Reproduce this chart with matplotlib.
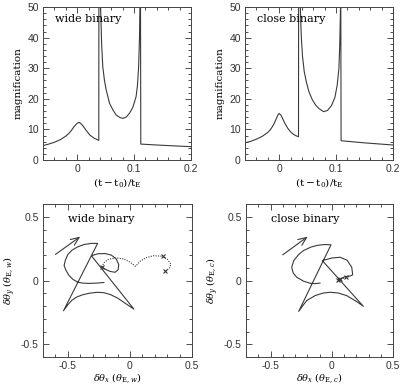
import matplotlib
matplotlib.use("Agg")
import matplotlib.pyplot as plt
from matplotlib.ticker import MultipleLocator

plt.rcParams['font.family'] = ['Liberation Sans', 'DejaVu Sans']
plt.rcParams['mathtext.fontset'] = 'dejavuserif'

SERIF = ['DejaVu Serif']

# ---- light curves ----
wide_t = [-0.06, -0.05, -0.04, -0.03, -0.02, -0.015, -0.01, -0.005, 0.0, 0.003,
          0.006, 0.01, 0.015, 0.022, 0.03, 0.035, 0.038, 0.0382,
          0.0405, 0.0412, 0.043, 0.045, 0.048, 0.051, 0.057, 0.063, 0.0686, 0.075,
          0.08, 0.086, 0.092, 0.098, 0.1035, 0.106, 0.108, 0.1095, 0.1105, 0.1112,
          0.1118, 0.15, 0.2]
wide_mag = [4.7, 5.2, 5.8, 6.6, 7.8, 8.6, 9.7, 11.0, 12.0, 12.3,
            12.0, 11.2, 9.9, 8.2, 7.1, 6.7, 6.4, 60,
            60, 50, 38, 30.5, 26, 22.9, 18.5, 16.3, 14.7, 13.9,
            13.6, 14.0, 15.3, 17.3, 20.7, 24.5, 30.5, 40, 52, 60,
            5.2, 4.8, 4.35]

close_t = [-0.06, -0.05, -0.04, -0.03, -0.02, -0.015, -0.01, -0.005, -0.002, 0.0,
           0.003, 0.006, 0.01, 0.015, 0.02, 0.025, 0.03, 0.034, 0.0342,
           0.0365, 0.0372, 0.039, 0.041, 0.044, 0.0477, 0.052, 0.058, 0.064, 0.07,
           0.078, 0.085, 0.092, 0.098, 0.102, 0.105, 0.1065, 0.1078, 0.1082,
           0.1088, 0.15, 0.2]
close_mag = [5.6, 6.1, 6.8, 7.7, 9.0, 10.0, 11.5, 13.5, 14.8, 15.2,
             14.7, 13.6, 12.0, 10.4, 9.2, 8.4, 7.9, 7.6, 60,
             60, 50, 40, 34, 29, 25.6, 22.5, 19.8, 18.0, 16.8,
             15.8, 16.2, 17.8, 20.5, 24.5, 30, 38, 50, 60,
             6.3, 5.6, 4.9]

# ---- centroid trajectories ----
wide_x = [-0.21, -0.27, -0.33, -0.38, -0.42, -0.46, -0.49, -0.515, -0.53, -0.52,
          -0.5, -0.465, -0.42, -0.37, -0.31, -0.26,
          -0.535,
          -0.5, -0.468, -0.43, -0.386, -0.33, -0.265, -0.21, -0.157, -0.1, -0.049, 0.032,
          -0.31,
          -0.26, -0.2, -0.15, -0.11, -0.09, -0.095, -0.12, -0.16, -0.2, -0.225]
wide_y = [-0.015, -0.02, -0.022, -0.02, -0.013, 0.01, 0.04, 0.08, 0.118, 0.16,
          0.205, 0.24, 0.265, 0.283, 0.292, 0.292,
          -0.237,
          -0.19, -0.155, -0.13, -0.113, -0.1, -0.092, -0.095, -0.11, -0.137, -0.171, -0.224,
          0.195,
          0.21, 0.212, 0.2, 0.17, 0.125, 0.085, 0.065, 0.072, 0.09, 0.105]
wide_dot_x = [-0.225, -0.21, -0.17, -0.11, -0.05, 0.0, 0.046, 0.08, 0.13, 0.19,
              0.25, 0.3, 0.33, 0.32, 0.285]
wide_dot_y = [0.105, 0.14, 0.168, 0.178, 0.17, 0.145, 0.112, 0.15, 0.18, 0.195,
              0.192, 0.17, 0.13, 0.1, 0.072]
wide_mark_x = [-0.225, 0.27, 0.285]
wide_mark_y = [0.105, 0.19, 0.072]

close_x = [-0.096, -0.14, -0.177, -0.23, -0.286, -0.315, -0.327, -0.31, -0.27, -0.23,
           -0.17, -0.12, -0.06, -0.006,
           -0.27,
           -0.235, -0.204, -0.136, -0.07, -0.014, 0.05, 0.122, 0.204, 0.258,
           -0.077,
           0.0, 0.068, 0.125, 0.163, 0.171, 0.15, 0.109, 0.054]
close_y = [-0.02, -0.024, -0.021, -0.005, 0.026, 0.06, 0.105, 0.157, 0.205, 0.236,
           0.263, 0.276, 0.283, 0.281,
           -0.242,
           -0.195, -0.157, -0.118, -0.098, -0.092, -0.097, -0.118, -0.165, -0.202,
           0.157,
           0.177, 0.183, 0.16, 0.105, 0.045, 0.036, 0.031, 0.005]
close_dot_x = [0.054, 0.09, 0.12, 0.15]
close_dot_y = [0.005, 0.016, 0.026, 0.034]
close_mark_x = [0.054, 0.068, 0.12]
close_mark_y = [0.005, 0.01, 0.026]

# arrows: (tail x, tail y, head x, head y)
wide_arrow = [-0.60, 0.205, -0.40, 0.345]
close_arrow = [-0.40, 0.202, -0.196, 0.345]

line_col = '#3a3a3a'

fig = plt.figure(figsize=(4.0, 3.87), dpi=100)
ax_tl = fig.add_axes([0.1075, 0.5866, 0.37, 0.395])
ax_tr = fig.add_axes([0.6125, 0.5866, 0.37, 0.395])
ax_bl = fig.add_axes([0.1075, 0.0775, 0.3725, 0.395])
ax_br = fig.add_axes([0.615, 0.0775, 0.3675, 0.395])


def style_axes(ax, major_x, minor_x, major_y, minor_y):
    ax.xaxis.set_major_locator(MultipleLocator(major_x))
    ax.xaxis.set_minor_locator(MultipleLocator(minor_x))
    ax.yaxis.set_major_locator(MultipleLocator(major_y))
    ax.yaxis.set_minor_locator(MultipleLocator(minor_y))
    ax.tick_params(which='both', direction='in', top=True, right=True,
                   width=0.6, labelsize=7.5, colors='#333333')
    ax.tick_params(axis='x', pad=3)
    ax.tick_params(axis='y', pad=3)
    ax.tick_params(which='major', length=4.5)
    ax.tick_params(which='minor', length=2.2)
    for s in ax.spines.values():
        s.set_linewidth(0.7)
        s.set_color('#444444')


for ax, t, m, name in [(ax_tl, wide_t, wide_mag, 'wide binary'),
                       (ax_tr, close_t, close_mag, 'close binary')]:
    ax.plot(t, m, color=line_col, lw=0.8)
    ax.set_xlim(-0.06, 0.2)
    ax.set_ylim(0, 50)
    style_axes(ax, 0.1, 0.02, 10, 2)
    ax.set_xticks([0, 0.1, 0.2])
    ax.set_xticklabels(['0', '0.1', '0.2'])
    ax.set_yticks([0, 10, 20, 30, 40, 50])
    ax.set_yticklabels(['0', '10', '20', '30', '40', '50'])
    ax.set_ylabel('magnification', fontsize=7.5, labelpad=3, family=SERIF)
    ax.set_xlabel(r'$(\mathrm{t-t_0})/\mathrm{t_E}$', fontsize=7.5, labelpad=1)
    ax.text(0.08, 0.925, name, transform=ax.transAxes, fontsize=8,
            va='center', ha='left', family=SERIF)

panels = [(ax_bl, wide_x, wide_y, wide_dot_x, wide_dot_y, wide_mark_x, wide_mark_y,
           wide_arrow, 'wide binary', 'w'),
          (ax_br, close_x, close_y, close_dot_x, close_dot_y, close_mark_x, close_mark_y,
           close_arrow, 'close binary', 'c')]
for ax, x, y, dx, dy, mx, my, arr, name, sub in panels:
    ax.plot(x, y, color=line_col, lw=0.8)
    ax.plot(dx, dy, color=line_col, lw=0.8, ls=(0, (1, 1.2)))
    ax.plot(mx, my, ls='none', marker='x', ms=2.5, mew=0.8, color=line_col)
    ax.annotate('', xy=(arr[2], arr[3]), xytext=(arr[0], arr[1]),
                arrowprops=dict(arrowstyle='->,head_length=0.6,head_width=0.25',
                                lw=0.8, color=line_col, shrinkA=0, shrinkB=0))
    ax.set_xlim(-0.7, 0.5)
    ax.set_ylim(-0.6, 0.6)
    style_axes(ax, 0.5, 0.1, 0.5, 0.1)
    ax.set_xticks([-0.5, 0, 0.5])
    ax.set_xticklabels(['-0.5', '0', '0.5'])
    ax.set_yticks([-0.5, 0, 0.5])
    ax.set_yticklabels(['-0.5', '0', '0.5'])
    ax.set_xlabel(r'$\delta\theta_x\ (\theta_{\mathrm{E},%s})$' % sub, fontsize=7, labelpad=0)
    ax.set_ylabel(r'$\delta\theta_y\ (\theta_{\mathrm{E},%s})$' % sub, fontsize=7, labelpad=2)
    ax.text(0.17, 0.90, name, transform=ax.transAxes, fontsize=8,
            va='center', ha='left', family=SERIF)

fig.savefig('out.png', dpi=100)
